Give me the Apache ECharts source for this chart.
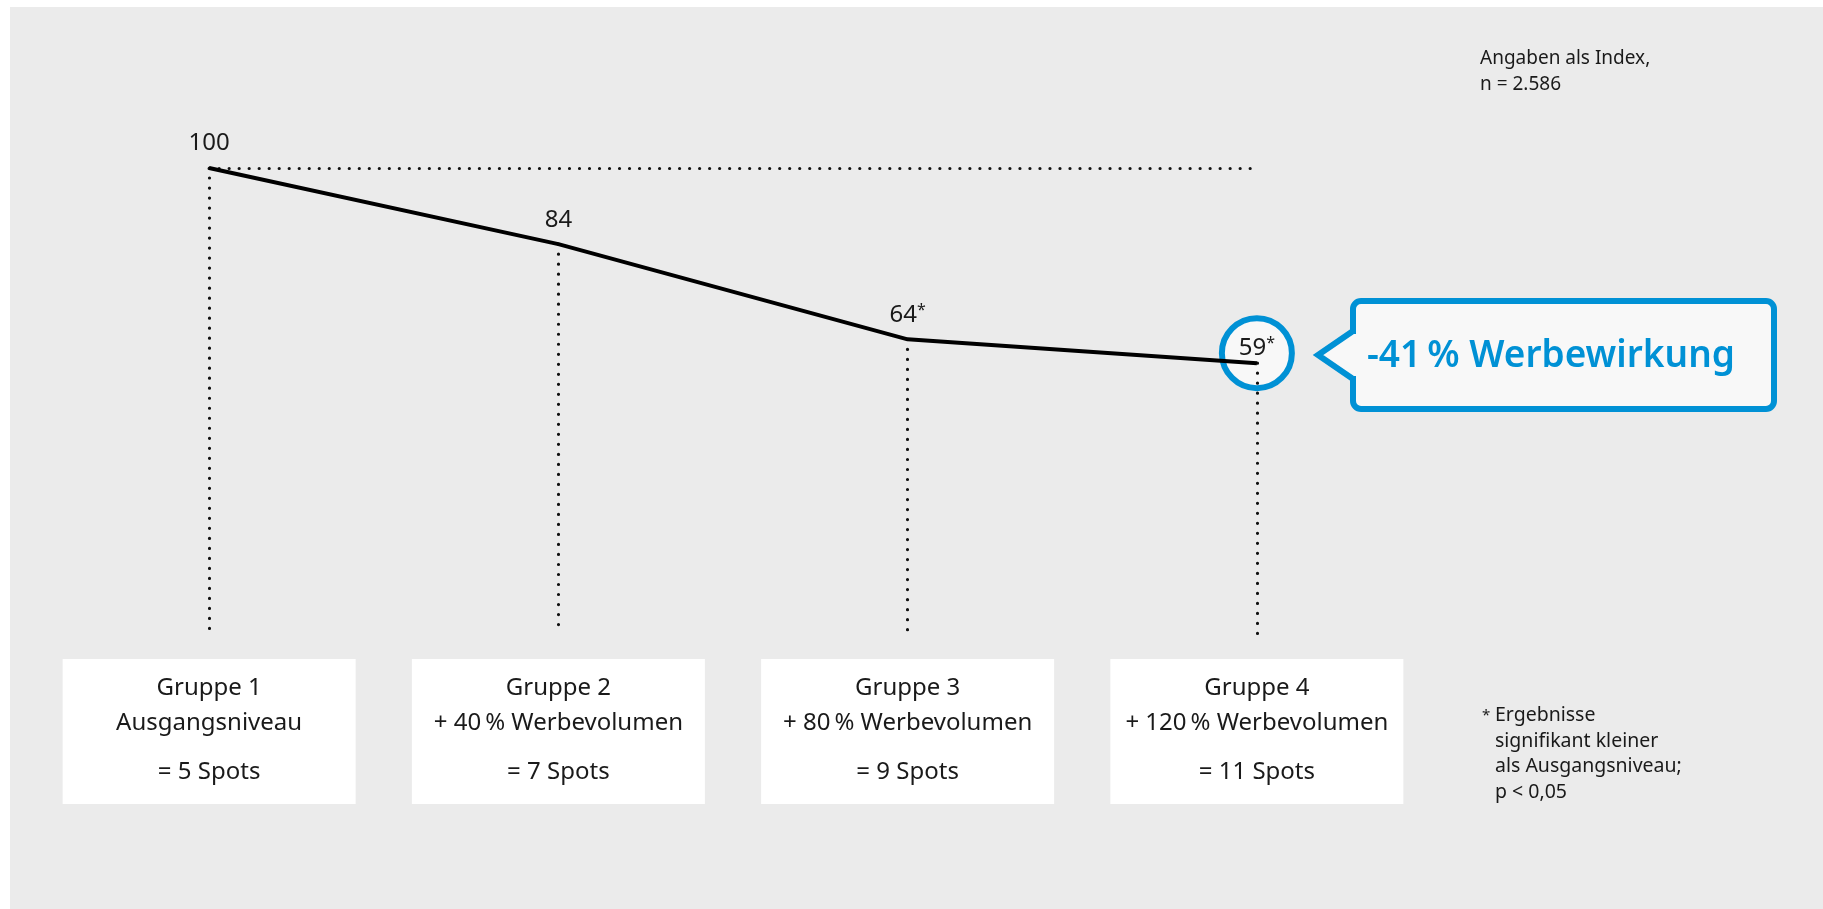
<!DOCTYPE html>
<html>
<head>
<meta charset="utf-8">
<script src="https://cdn.jsdelivr.net/npm/echarts@6/dist/echarts.min.js"></script>
<style>
html,body{margin:0;padding:0;background:#fff;}
#c{width:1823px;height:909px;}
</style>
</head>
<body>
<div id="c"></div>
<script>
// ---- data ----
const groups = ['Gruppe 1', 'Gruppe 2', 'Gruppe 3', 'Gruppe 4'];
const groupDesc = ['Ausgangsniveau', '+ 40\u2009% Werbevolumen', '+ 80\u2009% Werbevolumen', '+ 120\u2009% Werbevolumen'];
const spots = ['= 5 Spots', '= 7 Spots', '= 9 Spots', '= 11 Spots'];
const indexValues = [100, 84, 64, 59];
const significant = [false, false, true, true];
const highlightIndex = 3;
const baseValue = 100;
const dropLineEnd = 2;
const calloutText = '-41\u2009% Werbewirkung';
const noteText = 'Angaben als Index,\nn = 2.586';
const footnoteText = 'Ergebnisse\nsignifikant kleiner\nals Ausgangsniveau;\np < 0,05';

const BLUE = '#0091d5';
const INK = '#1a1a1a';
const FONT = '"Noto Sans", "Open Sans", sans-serif';

const chart = echarts.init(document.getElementById('c'), null, {renderer: 'canvas'});

const dotted = {color: '#111', width: 3.2, type: [0.01, 10], cap: 'round'};

const lineData = indexValues.map((v, i) => ({
  value: v,
  label: {
    formatter: significant[i] ? '{v|' + v + '}{s|*}' : '{v|' + v + '}',
    offset: i === highlightIndex ? [0, 9] : [0, 0]
  }
}));

const dropLines = groups.map((g, i) => [
  {coord: [g, indexValues[i]]},
  {coord: [g, dropLineEnd]}
]);
dropLines.push([
  {coord: [groups[0], baseValue]},
  {coord: [groups[groups.length - 1], baseValue]}
]);

const option = {
  backgroundColor: '#ebebeb',
  animation: false,
  textStyle: {fontFamily: FONT},
  grid: {left: 34.5, right: 391.5, top: 168, bottom: 265, containLabel: false},
  xAxis: {
    type: 'category',
    data: groups,
    boundaryGap: true,
    axisLine: {show: false},
    axisTick: {show: false},
    splitLine: {show: false},
    axisLabel: {
      margin: 15,
      interval: 0,
      formatter: (val, idx) => '{a|' + val + '}\n{a|' + groupDesc[idx] + '}\n{b|' + spots[idx] + '}',
      backgroundColor: '#ffffff',
      width: 293,
      padding: [12, 0, 1, 0],
      align: 'center',
      verticalAlign: 'top',
      rich: {
        a: {fontFamily: FONT, fontSize: 24, lineHeight: 35, color: INK, width: 293, align: 'center'},
        b: {fontFamily: FONT, fontSize: 24, lineHeight: 62, color: INK, width: 293, align: 'center'}
      }
    }
  },
  yAxis: {
    type: 'value', min: 0, max: 100, show: false,
    splitLine: {show: false}
  },
  title: [
    {
      text: noteText, left: 1480, top: 46, padding: 0,
      textStyle: {fontFamily: FONT, fontSize: 19, fontWeight: 'normal', color: INK, lineHeight: 26}
    },
    {
      text: '*', left: 1482, top: 706, padding: 0,
      textStyle: {fontFamily: FONT, fontSize: 15, fontWeight: 'normal', color: INK, lineHeight: 20}
    },
    {
      text: footnoteText, left: 1495, top: 703, padding: 0,
      textStyle: {fontFamily: FONT, fontSize: 19.5, fontWeight: 'normal', color: INK, lineHeight: 25.5}
    }
  ],
  series: [
    {
      type: 'scatter',
      z: 1,
      silent: true,
      data: [[groups[highlightIndex], indexValues[highlightIndex]]],
      symbol: 'circle',
      symbolSize: 70,
      symbolOffset: [0, -10],
      itemStyle: {color: '#f8f8f8', borderColor: BLUE, borderWidth: 6, opacity: 1},
      label: {show: false}
    },
    {
      type: 'line',
      z: 3,
      data: lineData,
      symbol: 'circle',
      symbolSize: 1,
      itemStyle: {color: '#000'},
      lineStyle: {color: '#000', width: 4},
      label: {
        show: true,
        position: 'top',
        distance: 12,
        color: INK,
        rich: {
          v: {fontFamily: FONT, fontSize: 24, lineHeight: 24, color: INK},
          s: {fontFamily: FONT, fontSize: 16, lineHeight: 16, verticalAlign: 'top', color: INK}
        }
      },
      markLine: {
        silent: true,
        symbol: ['none', 'none'],
        label: {show: false},
        lineStyle: dotted,
        emphasis: {disabled: true},
        data: dropLines,
        z: 2
      }
    }
  ],
  graphic: [
    {type: 'rect', shape: {x: 0, y: 0, width: 1823, height: 7}, style: {fill: '#fff'}, silent: true, z: 100},
    {type: 'rect', shape: {x: 0, y: 0, width: 10, height: 909}, style: {fill: '#fff'}, silent: true, z: 100},
    {
      type: 'rect', silent: true, z: 100,
      shape: {x: 1353, y: 301, width: 421, height: 108, r: 8},
      style: {fill: '#f8f8f8', stroke: BLUE, lineWidth: 6}
    },
    {
      type: 'polygon', silent: true, z: 101,
      shape: {points: [[1358, 334], [1353, 334], [1318, 355], [1353, 376], [1358, 376]]},
      style: {fill: '#f8f8f8'}
    },
    {
      type: 'polyline', silent: true, z: 102,
      shape: {points: [[1353, 331], [1318, 355], [1353, 379]]},
      style: {stroke: BLUE, lineWidth: 6, fill: null, lineJoin: 'miter'}
    },
    {
      type: 'text',
      silent: true,
      z: 103,
      x: 1367,
      y: 356,
      style: {
        text: calloutText,
        fill: BLUE,
        font: '600 37px ' + FONT,
        textAlign: 'left',
        textVerticalAlign: 'middle'
      }
    }
  ]
};
chart.setOption(option);
</script>
</body>
</html>
